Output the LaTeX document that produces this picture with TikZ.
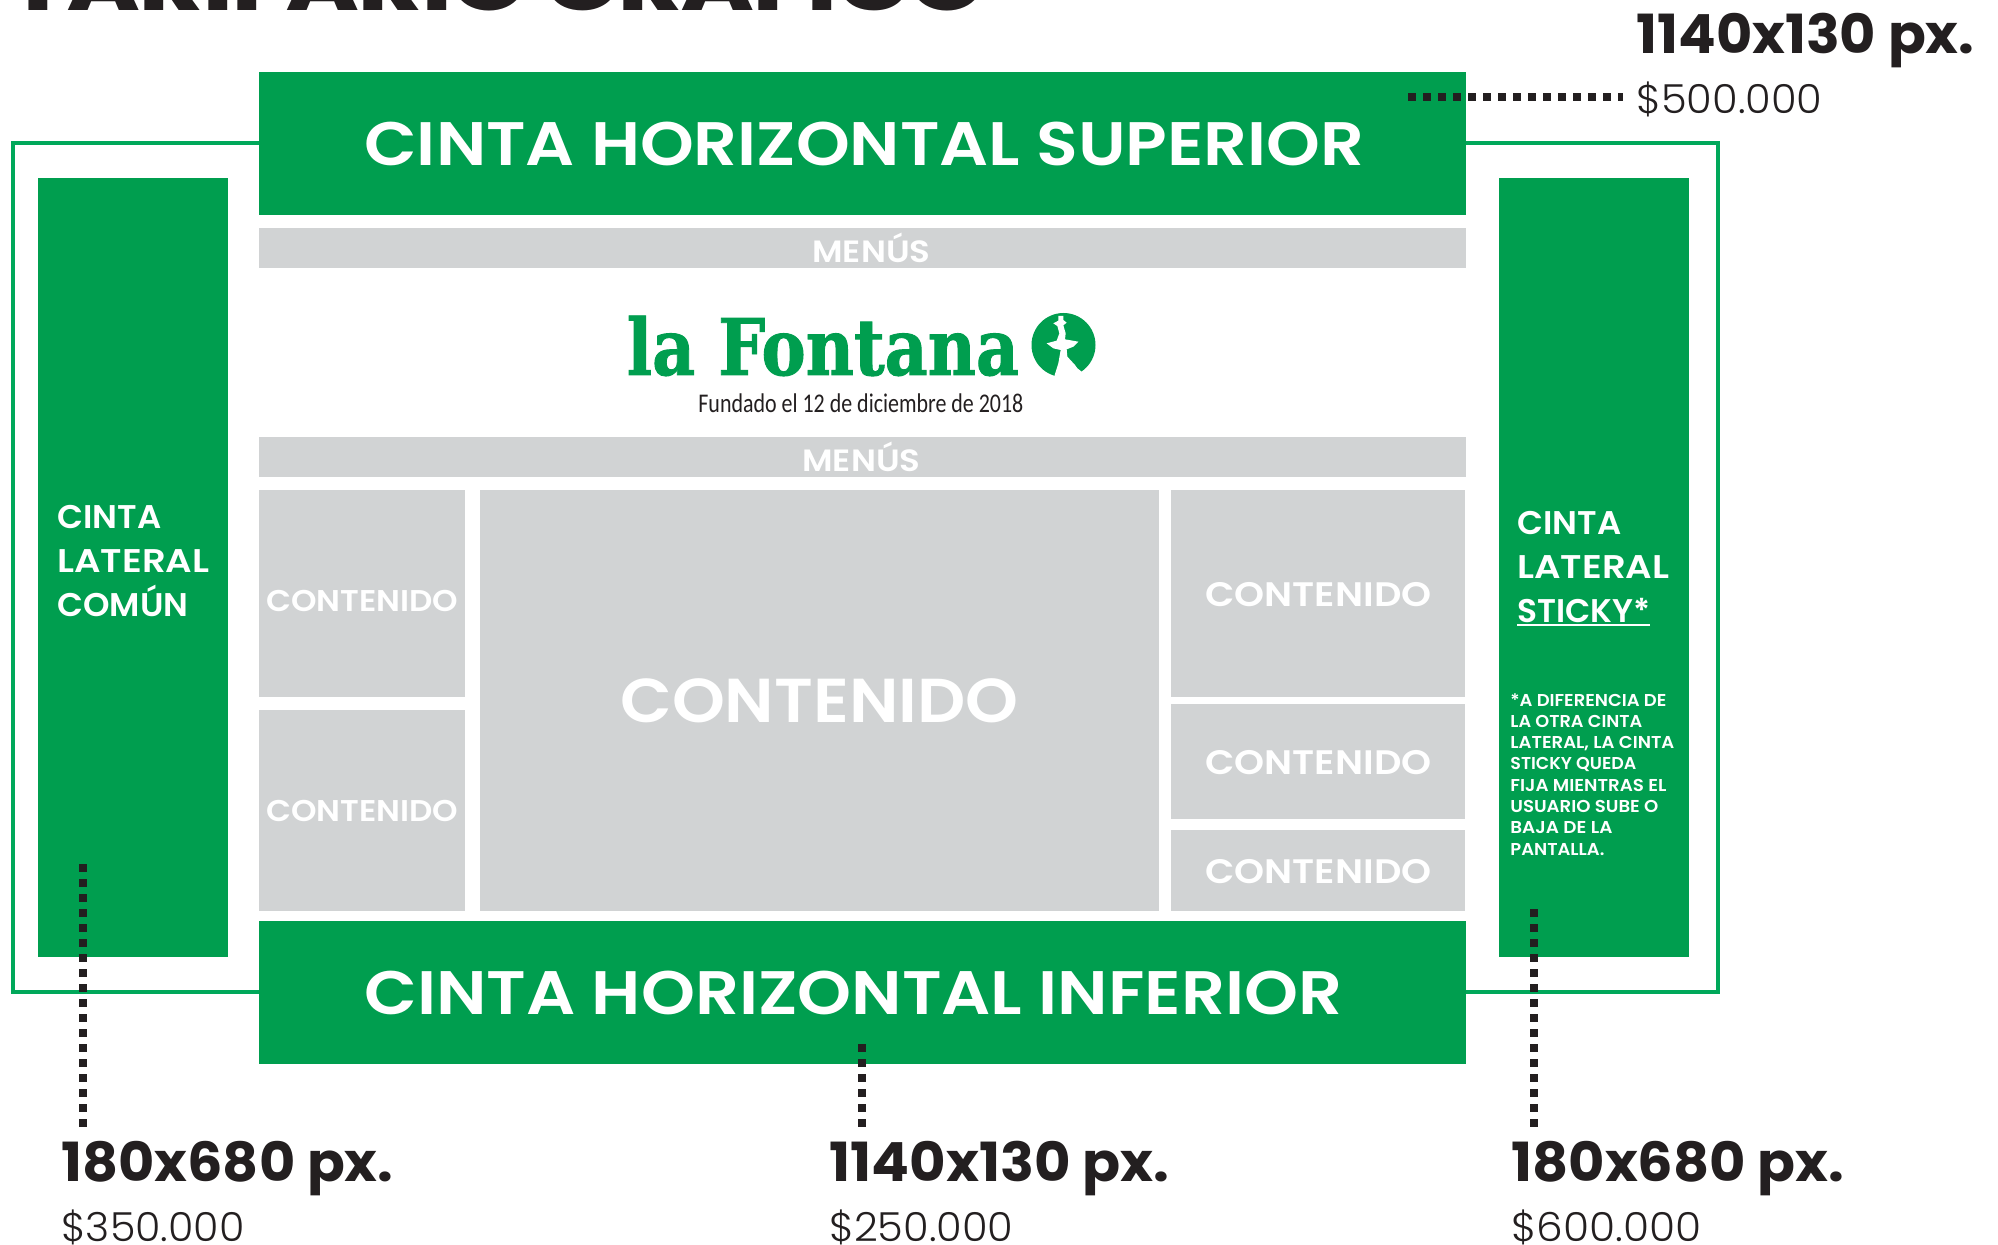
\documentclass[tikz,border=0pt]{standalone}
\usepackage{graphicx}
\usepackage{fontspec}
\setmainfont{Poppins}
\newfontfamily\fbold{Poppins Bold}
\newfontfamily\fxbold{Poppins ExtraBold}
\newfontfamily\fsemi{Poppins SemiBold}
\newfontfamily\flight{Poppins Light}
\newfontfamily\flogo{DejaVu Serif Condensed Bold}[FakeBold=1.2]
\newfontfamily\ftag{Carlito}
\definecolor{cgreen}{HTML}{009E4F}
\definecolor{coutline}{HTML}{00A85A}
\definecolor{cgrey}{HTML}{D1D3D4}
\definecolor{cink}{HTML}{231F20}
\newcommand\W[2]{\resizebox{\dimexpr#1pt/2\relax}{\height}{#2}}
\newcommand\fs[2]{\fontsize{#1pt}{#2pt}\selectfont}
\tikzset{
  greenbox/.style={rectangle,fill=cgreen,draw=none,inner sep=0pt,outer sep=0pt,anchor=north west},
  greybox/.style={rectangle,fill=cgrey,draw=none,inner sep=0pt,outer sep=0pt,anchor=north west},
  lbl/.style={inner sep=0pt,anchor=base west,text=white},
  dim/.style={inner sep=0pt,anchor=base west,text=cink},
  leader/.style={draw=cink,line width=4pt,dash pattern=on 4pt off 3.5pt},
  frameline/.style={draw=coutline,line width=2pt}
}
\newcommand\bx[6]{\node[#1,minimum width=\dimexpr(#5pt-#3pt)/2\relax,minimum height=\dimexpr(#6pt-#4pt)/2\relax] (#2) at (#3,#4) {};}
\begin{document}
\begin{tikzpicture}[x=0.5pt,y=-0.5pt]
\useasboundingbox (0,0) rectangle (1998,1245);
\clip (0,0) rectangle (1998,1245);
\fill[white] (0,0) rectangle (1998,1245);

\node[frameline,rectangle,inner sep=0pt,outer sep=0pt,anchor=north west,minimum width=852.25pt,minimum height=424.5pt] (frame) at (13,143) {};

\bx{greenbox}{top}{259}{72}{1466}{215}
\bx{greenbox}{bottom}{259}{921}{1466}{1064}
\bx{greenbox}{left}{38}{178}{228}{957}
\bx{greenbox}{right}{1499}{178}{1689}{957}
\bx{greybox}{menu1}{259}{228}{1466}{268}
\bx{greybox}{menu2}{259}{437}{1466}{477}
\bx{greybox}{c1}{259}{490}{465}{697}
\bx{greybox}{c2}{259}{710}{465}{911}
\bx{greybox}{c3}{480}{490}{1159}{911}
\bx{greybox}{c4}{1171}{490}{1465}{697}
\bx{greybox}{c5}{1171}{704}{1465}{819}
\bx{greybox}{c6}{1171}{830}{1465}{911}

\node[dim,font=\fxbold\fs{38}{38}] (title) at (9,10.5) {\W{976}{TARIFARIO GRÁFICO}};

\node[lbl,font=\fsemi\fs{30.7}{36}] (ttop) at (364,166) {\W{1000}{CINTA HORIZONTAL SUPERIOR}};
\node[lbl,font=\fsemi\fs{30.7}{36}] (tbot) at (364,1014) {\W{978}{CINTA HORIZONTAL INFERIOR}};
\node[lbl,font=\fsemi\fs{15.4}{18}] (tm1) at (812,263) {\W{118}{MENÚS}};
\node[lbl,font=\fsemi\fs{15.4}{18}] (tm2) at (802,472) {\W{118}{MENÚS}};
\node[lbl,font=\fsemi\fs{15}{18}] (t1) at (266,612) {\W{192}{CONTENIDO}};
\node[lbl,font=\fsemi\fs{15}{18}] (t2) at (266,821) {\W{192}{CONTENIDO}};
\node[lbl,font=\fsemi\fs{31}{36}] (t3) at (620,723) {\W{398}{CONTENIDO}};
\node[lbl,font=\fsemi\fs{17}{20}] (t4) at (1205,607) {\W{226}{CONTENIDO}};
\node[lbl,font=\fsemi\fs{17}{20}] (t5) at (1205,775) {\W{226}{CONTENIDO}};
\node[lbl,font=\fsemi\fs{17}{20}] (t6) at (1205,883) {\W{226}{CONTENIDO}};

\node[lbl,anchor=north west,align=left,font=\fsemi\fs{16.4}{22}] (tl) at (57,505)
  {\W{104}{CINTA}\\\W{152}{LATERAL}\\\W{131}{COMÚN}};
\node[lbl,anchor=north west,align=left,font=\fsemi\fs{16.4}{22}] (tr) at (1517,511)
  {\W{104}{CINTA}\\\W{152}{LATERAL}\\\W{133}{STICKY*}\llap{\rule[-1.8pt]{66.5pt}{1pt}}};
\node[lbl,anchor=north west,align=left,font=\fsemi\fs{8.6}{10.65}] (tn) at (1510,693)
  {\W{156}{*A DIFERENCIA DE}\\\W{132}{LA OTRA CINTA}\\\W{164}{LATERAL, LA CINTA}\\\W{126}{STICKY QUEDA}\\\W{156}{FIJA MIENTRAS EL}\\\W{148}{USUARIO SUBE O}\\\W{102}{BAJA DE LA}\\\W{94}{PANTALLA.}};

\node[inner sep=0pt,anchor=base west,text=cgreen,font=\flogo\fs{39}{40}] (logo) at (626.5,375) {\W{392}{la Fontana}};
\node[inner sep=0pt,anchor=base west,text=cink,font=\ftag\fs{13.5}{16}] (tag) at (698,413) {\W{325}{Fundado el 12 de diciembre de 2018}};
\node[circle,fill=cgreen,inner sep=0pt,outer sep=0pt,minimum size=32pt,anchor=center] (icon) at (1063.5,345) {};
\begin{scope}[shift={(1020,300)},x=0.16667pt,y=-0.16667pt]
\fill[white] (115,48) -- (130,48) -- (130,60) -- (140,68) -- (130,76) -- (137,100) -- (135,118) -- (175,125) -- (160,140) -- (140,148) -- (142,170) -- (165,195) -- (172,205) -- (185,215) -- (182,240) -- (100,240) -- (105,222) -- (115,190) -- (122,150) -- (100,145) -- (80,130) -- (110,122) -- (118,100) -- (112,78) -- (100,70) -- (115,62) -- cycle;
\end{scope}

\node[dim,font=\fbold\fs{27}{30}] (d1) at (1636,54) {\W{338}{1140x130 px.}};
\node[dim,font=\flight\fs{20}{24}] (p1) at (1636,114) {\W{186}{\$500.000}};
\node[dim,font=\fbold\fs{27}{30}] (d2) at (61,1181) {\W{332}{180x680 px.}};
\node[dim,font=\flight\fs{20}{24}] (p2) at (61,1241) {\W{183}{\$350.000}};
\node[dim,font=\fbold\fs{27}{30}] (d3) at (829,1181) {\W{340}{1140x130 px.}};
\node[dim,font=\flight\fs{20}{24}] (p3) at (829,1241) {\W{184}{\$250.000}};
\node[dim,font=\fbold\fs{27}{30}] (d4) at (1511,1181) {\W{333}{180x680 px.}};
\node[dim,font=\flight\fs{20}{24}] (p4) at (1511,1241) {\W{190}{\$600.000}};

\coordinate (a1) at (1408,97); \coordinate (a2) at (1623,97);
\coordinate (b1) at (83,864);  \coordinate (b2) at (83,1128);
\coordinate (c1p) at (862,1044); \coordinate (c2p) at (862,1128);
\coordinate (e1) at (1534,909); \coordinate (e2) at (1534,1128);
\draw[leader] (a1) -- (a2);
\draw[leader] (b1) -- (b2);
\draw[leader] (c1p) -- (c2p);
\draw[leader] (e1) -- (e2);
\end{tikzpicture}
\end{document}
